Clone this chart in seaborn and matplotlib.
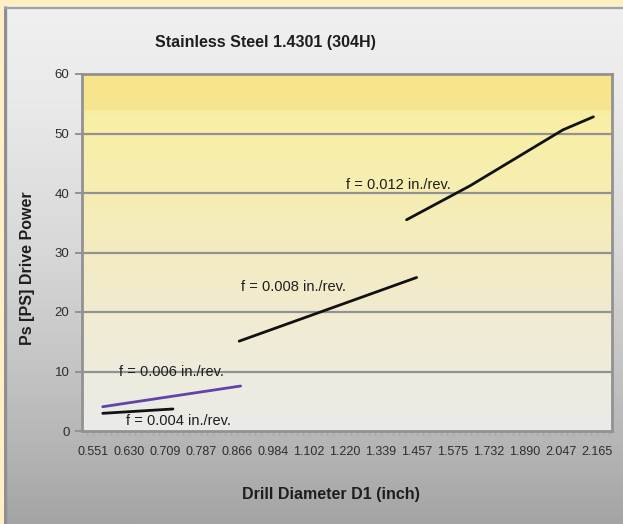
import numpy as np
import pandas as pd
import matplotlib
matplotlib.use("Agg")
import matplotlib.pyplot as plt
from matplotlib.colors import LinearSegmentedColormap
from matplotlib.ticker import MultipleLocator
import seaborn as sns

# Drill diameters shown on the category axis (inch)
diameters = ["0.551", "0.630", "0.709", "0.787", "0.866", "0.984", "1.102", "1.220",
             "1.339", "1.457", "1.575", "1.732", "1.890", "2.047", "2.165"]
y_ticks = [0, 10, 20, 30, 40, 50, 60]

# Drive power curves, x given as position along the diameter axis
f004_x = [0.27, 2.22]
f004_y = [2.97, 3.70]
f006_x = [0.27, 4.10]
f006_y = [4.08, 7.56]
f008_x = [4.06, 8.99]
f008_y = [15.1, 25.8]
f012_x = [8.71, 10.47, 13.05, 13.90]
f012_y = [35.5, 41.2, 50.6, 52.8]

series_names = ["f = 0.004 in./rev.", "f = 0.006 in./rev.",
                "f = 0.008 in./rev.", "f = 0.012 in./rev."]

frames = []
for name, xs, ys in zip(series_names,
                        [f004_x, f006_x, f008_x, f012_x],
                        [f004_y, f006_y, f008_y, f012_y]):
    frames.append(pd.DataFrame({"series": name, "x": xs, "y": ys}))
df = pd.concat(frames, ignore_index=True)

sns.set_theme(style="white")
plt.rcParams["font.family"] = ["Liberation Sans", "DejaVu Sans"]

W, H = 623, 524
fig = plt.figure(figsize=(W / 100, H / 100), dpi=100)
fig.patch.set_facecolor("#FFF0C4")

# grey panel with vertical gradient
panel = fig.add_axes([4 / W, 0, 1 - 4 / W, (H - 6) / H])
panel.set_axis_off()
stops = [(0.0, "#F0F0F0"), (0.18, "#EAEAEA"), (0.47, "#D8D8D8"),
         (0.72, "#C2C2C2"), (0.86, "#B4B4B4"), (1.0, "#A4A4A4")]
pcmap = LinearSegmentedColormap.from_list("panel", stops)
panel.imshow(np.linspace(0, 1, 256).reshape(-1, 1), cmap=pcmap, aspect="auto",
             extent=(0, 1, 0, 1), origin="upper")
panel.set_xlim(0, 1)
panel.set_ylim(0, 1)
panel.plot([0.002, 0.002], [0, 1], color="#8E8E96", lw=2.4, solid_capstyle="butt")
panel.plot([0, 1], [0.997, 0.997], color="#A0A0A0", lw=1.6, solid_capstyle="butt")

ax = fig.add_axes([82 / W, (H - 431) / H, (612 - 82) / W, (431 - 74) / H])
xlim = (-0.306, 14.417)
ylim = (0, 60)

# plot-area gradient: saturated top band, then fading yellow to light grey
band = 53.9
vals = np.linspace(60, 0, 600)
top_c = LinearSegmentedColormap.from_list("top", ["#F8E68A", "#F5E58F"])
low_c = LinearSegmentedColormap.from_list(
    "low", [(0.0, "#F9EFA3"), (0.26, "#F6EDB3"), (0.54, "#F2EBC9"),
            (0.81, "#EEECDD"), (1.0, "#EAEAE8")])
rgb = np.zeros((len(vals), 1, 4))
for i, v in enumerate(vals):
    if v >= band:
        rgb[i, 0] = top_c((60 - v) / (60 - band))
    else:
        rgb[i, 0] = low_c((band - v) / band)
ax.imshow(rgb, aspect="auto", extent=(xlim[0], xlim[1], 0, 60), origin="upper", zorder=0)

palette = {series_names[0]: "#111111", series_names[1]: "#6243A8",
           series_names[2]: "#111111", series_names[3]: "#111111"}
sns.lineplot(data=df, x="x", y="y", hue="series", palette=palette, sort=False,
             estimator=None, linewidth=2.0, legend=False, ax=ax, zorder=3)

ax.set_xlim(*xlim)
ax.set_ylim(*ylim)
ax.set_xticks(range(len(diameters)))
ax.set_xticklabels(diameters)
ax.xaxis.set_minor_locator(MultipleLocator(1 / 6))
ax.set_yticks(y_ticks)
ax.set_yticklabels([str(t) for t in y_ticks])

grid_c = "#929292"
for t in y_ticks[1:-1]:
    ax.axhline(t, color=grid_c, lw=1.6, zorder=1)
for side in ["left", "right", "top", "bottom"]:
    ax.spines[side].set_visible(True)
    ax.spines[side].set_color(grid_c)
    ax.spines[side].set_linewidth(2.0)
    ax.spines[side].set_zorder(2)

ax.tick_params(axis="y", which="major", direction="out", length=5, width=1.4,
               color=grid_c, labelsize=9.5, labelcolor="#2E2E2E", pad=4, left=True)
ax.tick_params(axis="x", which="both", direction="out", length=3, width=1.0,
               color="#A8A8A8", labelsize=9.0, labelcolor="#2E2E2E", pad=8, bottom=True)
ax.set_xlabel("")
ax.set_ylabel("")

# series labels
ann = dict(fontsize=10.5, color="#1E1E1E", va="center", ha="left", zorder=4)
ax.text(7.02, 41.3, series_names[3], **ann)
ax.text(4.10, 24.2, series_names[2], **ann)
ax.text(0.72, 10.0, series_names[1], **ann)
ax.text(0.92, 1.7, series_names[0], **ann)

fig.text(265 / W, (H - 42) / H, "Stainless Steel 1.4301 (304H)", ha="center",
         va="center", fontsize=11.5, fontweight="bold", color="#1E1E1E")
fig.text(331 / W, (H - 495) / H, "Drill Diameter D1 (inch)", ha="center",
         va="center", fontsize=11.5, fontweight="bold", color="#1E1E1E")
fig.text(28 / W, (H - 268) / H, "Ps [PS] Drive Power", ha="center", va="center",
         rotation=90, fontsize=11.5, fontweight="bold", color="#1E1E1E")

fig.savefig("out.png", dpi=100, facecolor=fig.get_facecolor())
